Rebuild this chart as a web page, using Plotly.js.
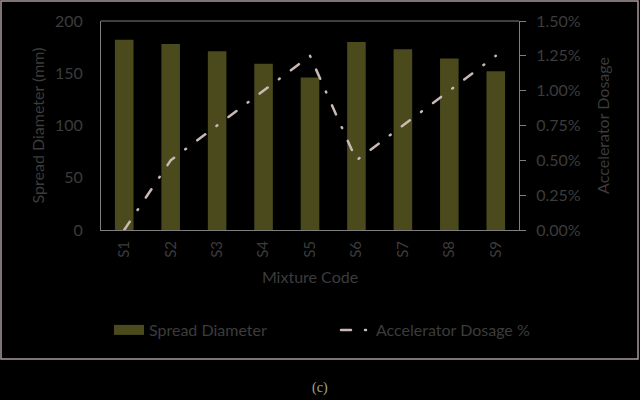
<!DOCTYPE html>
<html><head><meta charset="utf-8">
<script src="https://cdn.plot.ly/plotly-3.0.1.min.js"></script>
<style>html,body{margin:0;padding:0;background:#000;}
path.js-line{stroke-linecap:round;}
g.legend path.js-line{stroke-linecap:butt;}</style>
</head><body>
<div id="chart" style="width:640px;height:400px;"></div>
<script>
var categories = ["S1","S2","S3","S4","S5","S6","S7","S8","S9"];
var spreadDiameter = [182, 178, 171, 159, 146, 180, 173, 164, 152];
var acceleratorDosage = [0.0, 0.005, 0.0075, 0.01, 0.0125, 0.005, 0.0075, 0.01, 0.0125];
var leftTicks = [0, 50, 100, 150, 200];
var rightTicks = [0, 0.0025, 0.005, 0.0075, 0.01, 0.0125, 0.015];

var txt = '#3c3c3c';
var font = 'Lato, "Open Sans", sans-serif';
var barColor = '#4b4a1c';
var lineColor = '#c9b9b4';
// plot area in pixels: x 101..519, y 21..230
function px(x){return (x-101)/418;}
function py(y){return (230-y)/209;}

var data = [
  {type:'bar', x:categories, y:spreadDiameter, name:'Spread Diameter',
   marker:{color:barColor}, yaxis:'y', showlegend:false},
  {type:'scatter', mode:'lines', x:categories, y:acceleratorDosage, name:'Accelerator Dosage %',
   line:{color:lineColor, width:2.5, dash:'10px,14px,1px,14px'}, yaxis:'y2', legend:'legend2'},
  // legend-only entry giving the bar series its wide swatch
  {type:'scatter', mode:'lines', x:[categories[0]], y:[null], name:'Spread Diameter',
   line:{color:barColor, width:12}, yaxis:'y', legend:'legend', hoverinfo:'skip'}
];
var legendFont = {size:16, color:txt};
var layout = {
  width:640, height:400,
  paper_bgcolor:'#000', plot_bgcolor:'#000',
  margin:{l:101, r:121, t:21, b:170},
  font:{family:font, color:txt, size:15},
  bargap:0.6,
  showlegend:true,
  legend:{orientation:'h', x:px(109), xanchor:'left', y:py(330), yanchor:'middle',
          font:legendFont, bgcolor:'rgba(0,0,0,0)'},
  legend2:{orientation:'h', x:px(336), xanchor:'left', y:py(330), yanchor:'middle',
          font:legendFont, bgcolor:'rgba(0,0,0,0)'},
  xaxis:{type:'category', showline:true, linecolor:'#7f7f7f', linewidth:1,
         ticks:'', tickangle:-90, tickfont:{size:15, color:txt}, ticklabelstandoff:4,
         title:{text:'Mixture Code', font:{size:16, color:txt}, standoff:14}},
  yaxis:{range:[0,200], tickvals:leftTicks, showgrid:false, zeroline:false,
         showline:true, linecolor:'#7f7f7f', linewidth:1, ticks:'',
         tickfont:{size:16, color:txt}, ticklabelstandoff:14,
         title:{text:'Spread Diameter (mm)', font:{size:16, color:txt}, standoff:6}},
  yaxis2:{overlaying:'y', side:'right', range:[0,0.015], tickvals:rightTicks,
          tickformat:'.2%', showgrid:false, zeroline:false, showline:true,
          linecolor:'#7f7f7f', linewidth:1, ticks:'outside', ticklen:6, tickcolor:'#7f7f7f',
          tickfont:{size:16, color:txt}, ticklabelstandoff:7,
          title:{text:'Accelerator Dosage', font:{size:16, color:txt}, standoff:17}},
  shapes:[
    {type:'line', xref:'paper', yref:'paper', x0:0, x1:1, y0:1, y1:1,
     line:{color:'#7f7f7f', width:1}},
    {type:'rect', xref:'paper', yref:'paper', x0:px(1), x1:px(638), y0:py(359), y1:py(1),
     line:{color:'#a89a9a', width:1.5}, fillcolor:'rgba(0,0,0,0)'}
  ],
  annotations:[
    {text:'(c)', xref:'paper', yref:'paper', x:px(320), y:py(388), xanchor:'center', yanchor:'middle',
     showarrow:false, font:{size:14, color:'#9aa89a', family:'"Liberation Serif", serif'}}
  ]
};
Plotly.newPlot('chart', data, layout, {displayModeBar:false, staticPlot:true});
</script>
</body></html>
